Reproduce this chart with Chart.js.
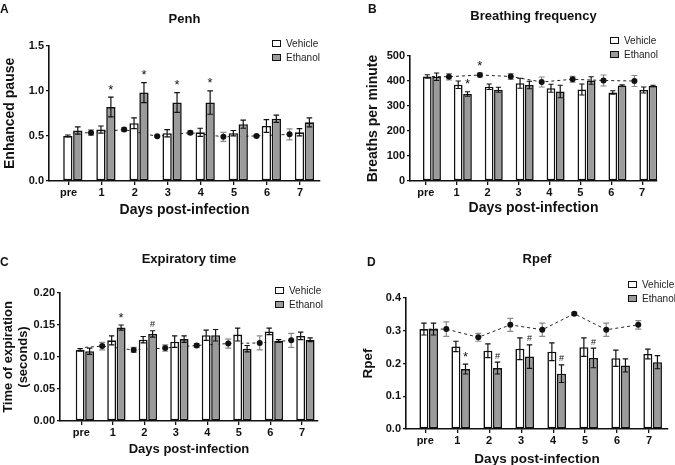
<!DOCTYPE html>
<html>
<head>
<meta charset="utf-8">
<script src="https://cdn.jsdelivr.net/npm/chart.js@4.4.0/dist/chart.umd.min.js"></script>
<style>
  html, body { margin: 0; padding: 0; background: #fff; overflow: hidden; }
  body { width: 675px; height: 465px; position: relative; font-family: Arial, "Liberation Sans", sans-serif; color: #111; }
  canvas { position: absolute; }
  .letter { position: absolute; font-weight: bold; font-size: 12px; line-height: 12px; }
  .legend { position: absolute; font-size: 10px; color: #222; }
  .legend div { height: 14px; line-height: 14px; white-space: nowrap; }
  .legend span { display: inline-block; box-sizing: border-box; width: 9px; height: 7px; border: 1.5px solid #111; margin-right: 5px; }
</style>
</head>
<body>
<canvas id="chartA" width="335" height="230" style="left:0;top:0"></canvas>
<canvas id="chartB" width="340" height="230" style="left:335px;top:0"></canvas>
<canvas id="chartC" width="335" height="240" style="left:0;top:230px"></canvas>
<canvas id="chartD" width="340" height="240" style="left:335px;top:230px"></canvas>
<div class="letter" style="left:0;top:3px">A</div>
<div class="letter" style="left:368px;top:3px">B</div>
<div class="letter" style="left:0;top:256px">C</div>
<div class="letter" style="left:367px;top:256px">D</div>
<div class="legend" id="legA" style="left:272px;top:37px"></div>
<div class="legend" id="legB" style="left:610px;top:34px"></div>
<div class="legend" id="legC" style="left:275px;top:284px"></div>
<div class="legend" id="legD" style="left:628px;top:278px"></div>
<script>
const days = ['pre', '1', '2', '3', '4', '5', '6', '7'];
const seriesNames = ['Vehicle', 'Ethanol'];
const seriesFills = ['#ffffff', '#9b9b9b'];

// A - Penh
const penhVehicle = [0.50, 0.57, 0.64, 0.53, 0.54, 0.53, 0.61, 0.54];
const penhVehicleErr = [0.01, 0.04, 0.06, 0.04, 0.045, 0.03, 0.07, 0.04];
const penhEthanol = [0.56, 0.82, 0.98, 0.87, 0.87, 0.63, 0.69, 0.65];
const penhEthanolErr = [0.04, 0.11, 0.11, 0.11, 0.13, 0.045, 0.04, 0.05];
const penhLine = [0.53, 0.536, 0.57, 0.495, 0.536, 0.49, 0.50, 0.517];
const penhLineErr = [null, 0.03, 0.02, 0.01, 0.02, 0.05, 0.01, 0.06];
const penhEthanolMarks = ['', '*', '*', '*', '*', '', '', ''];
const penhLineMarks = ['', '', '', '', '', '', '', ''];

// B - breathing frequency
const bfVehicle = [418, 385, 377, 391, 371, 366, 354, 364];
const bfVehicleErr = [7, 15, 11, 20, 16, 22, 7, 12];
const bfEthanol = [417, 348, 365, 384, 358, 402, 382, 380];
const bfEthanolErr = [15, 9, 10, 15, 25, 15, 3, 3];
const bfLine = [418, 417, 424, 418, 396, 407, 402, 400];
const bfLineErr = [null, 13, 8, 12, 20, 12, 22, 22];
const bfEthanolMarks = ['', '*', '', '', '', '', '', ''];
const bfLineMarks = ['', '', '*', '', '', '', '', ''];

// C - expiratory time
const etVehicle = [0.111, 0.126, 0.127, 0.124, 0.134, 0.135, 0.140, 0.133];
const etVehicleErr = [0.002, 0.007, 0.005, 0.009, 0.008, 0.010, 0.005, 0.006];
const etEthanol = [0.109, 0.146, 0.136, 0.128, 0.134, 0.113, 0.125, 0.127];
const etEthanolErr = [0.005, 0.004, 0.005, 0.005, 0.009, 0.005, 0.002, 0.003];
const etLine = [0.115, 0.117, 0.111, 0.114, 0.118, 0.121, 0.122, 0.126];
const etLineErr = [null, 0.006, 0.004, 0.005, 0.003, 0.007, 0.011, 0.011];
const etEthanolMarks = ['', '*', '#', '', '', '', '', ''];
const etLineMarks = ['', '', '', '', '', '', '', ''];

// D - Rpef
const rpefVehicle = [0.305, 0.252, 0.239, 0.245, 0.236, 0.250, 0.216, 0.229];
const rpefVehicleErr = [0.018, 0.016, 0.021, 0.033, 0.027, 0.028, 0.025, 0.015];
const rpefEthanol = [0.305, 0.183, 0.186, 0.221, 0.169, 0.217, 0.194, 0.204];
const rpefEthanolErr = [0.018, 0.015, 0.018, 0.036, 0.027, 0.030, 0.020, 0.020];
const rpefLine = [0.305, 0.305, 0.280, 0.318, 0.303, 0.352, 0.303, 0.318];
const rpefLineErr = [null, 0.022, 0.012, 0.02, 0.02, 0.004, 0.02, 0.013];
const rpefEthanolMarks = ['', '*', '#', '#', '#', '#', '', ''];
const rpefLineMarks = ['', '', '', '', '', '', '', ''];

const FONT = 'Arial, "Liberation Sans", sans-serif';
const INK = '#111';

// error bars: line ones go under the dots, bar ones on top of the bars
function drawErrors(chart, index) {
  const ds = chart.data.datasets[index];
  if (!ds.errors) return;
  const meta = chart.getDatasetMeta(index);
  const yScale = chart.scales.y;
  const ctx = chart.ctx;
  ctx.save();
  ctx.strokeStyle = ds.errorColor || INK;
  ctx.lineWidth = 1.2;
  meta.data.forEach((el, i) => {
    const e = ds.errors[i];
    if (e == null) return;
    const v = ds.data[i].y;
    const top = yScale.getPixelForValue(v + e);
    const bot = yScale.getPixelForValue(v - e);
    const half = ds.type === 'line' ? 3 : el.width * 0.3;
    ctx.beginPath();
    ctx.moveTo(el.x, top); ctx.lineTo(el.x, bot);
    ctx.moveTo(el.x - half, top); ctx.lineTo(el.x + half, top);
    ctx.moveTo(el.x - half, bot); ctx.lineTo(el.x + half, bot);
    ctx.stroke();
  });
  ctx.restore();
}

const errorBars = {
  id: 'errorBars',
  beforeDatasetDraw(chart, args) {
    if (chart.data.datasets[args.index].type === 'line') drawErrors(chart, args.index);
  },
  afterDatasetDraw(chart, args) {
    if (chart.data.datasets[args.index].type !== 'line') drawErrors(chart, args.index);
  },
  afterDatasetsDraw(chart) {
    const ctx = chart.ctx;
    const yScale = chart.scales.y;
    ctx.save();
    ctx.fillStyle = INK;
    ctx.textAlign = 'center';
    ctx.textBaseline = 'alphabetic';
    chart.data.datasets.forEach((ds, di) => {
      if (!ds.marks) return;
      const meta = chart.getDatasetMeta(di);
      ds.marks.forEach((m, i) => {
        if (!m) return;
        const el = meta.data[i];
        const top = yScale.getPixelForValue(ds.data[i].y + (ds.errors[i] || 0));
        ctx.font = (m === '#' ? '9px ' : '13px ') + FONT;
        ctx.fillText(m, el.x, top - 3.5);
      });
    });
    ctx.restore();
  }
};

function makeLegend(id) {
  const el = document.getElementById(id);
  el.innerHTML = seriesNames.map((n, i) =>
    '<div><span style="background:' + seriesFills[i] + '"></span>' + n + '</div>').join('');
}

function makeChart(id, p) {
  const canvas = document.getElementById(id);
  const W = canvas.width, H = canvas.height;
  const [left, top, right, bottom] = p.area;
  const tLh = 13 * 1.2;
  const aLh = p.axisSize * 1.2;
  return new Chart(canvas, {
    data: {
      datasets: [
        {
          type: 'bar', label: seriesNames[0],
          data: p.vehicle.map((v, i) => ({ x: i, y: v })),
          errors: p.vehicleErr,
          backgroundColor: seriesFills[0], borderColor: INK, borderWidth: 1.6, borderSkipped: false,
          categoryPercentage: 0.6, barPercentage: 0.94, order: 1
        },
        {
          type: 'bar', label: seriesNames[1],
          data: p.ethanol.map((v, i) => ({ x: i, y: v })),
          errors: p.ethanolErr, marks: p.ethanolMarks,
          backgroundColor: seriesFills[1], borderColor: INK, borderWidth: 1.6, borderSkipped: false,
          categoryPercentage: 0.6, barPercentage: 0.94, order: 1
        },
        {
          type: 'line',
          data: p.line.map((v, i) => ({ x: i === 0 ? 0 : i - 0.45, y: v })),
          errors: p.lineErr, marks: p.lineMarks, errorColor: '#8a8a8a',
          borderColor: '#222', borderWidth: 1, borderDash: [3, 3],
          pointRadius: p.line.map((v, i) => i === 0 ? 0 : 3),
          pointBackgroundColor: INK, pointBorderWidth: 0,
          order: 2
        }
      ]
    },
    options: {
      responsive: false,
      animation: false,
      layout: { padding: { left: 0, right: W - right, top: 0, bottom: 0 } },
      plugins: {
        legend: { display: false },
        tooltip: { enabled: false },
        title: {
          display: true, text: p.title, fullSize: false, color: INK,
          font: { family: FONT, size: 13, weight: 'bold' },
          padding: { top: p.titleY - tLh / 2, bottom: top - p.titleY - tLh / 2 }
        }
      },
      scales: {
        x: {
          type: 'linear', min: p.xMin, max: p.xMax, offset: false,
          afterBuildTicks: s => { s.ticks = days.map((d, i) => ({ value: i + p.tickShift })); },
          afterFit: s => { s.height = H - bottom; },
          ticks: {
            autoSkip: false, maxRotation: 0, padding: 1, color: INK,
            font: { family: FONT, size: 11, weight: 'bold' },
            callback: (v, i) => days[i]
          },
          grid: { offset: false, drawOnChartArea: false, tickLength: 4, color: INK, lineWidth: 1.3 },
          border: { color: INK, width: 1.6 },
          title: {
            display: true, text: 'Days post-infection', color: INK,
            font: { family: FONT, size: p.axisSize, weight: 'bold' },
            padding: { top: 0, bottom: H - p.xTitleY - aLh / 2 }
          }
        },
        y: {
          type: 'linear', min: 0, max: p.yMax,
          afterFit: s => { s.width = left; },
          ticks: {
            stepSize: p.yStep, padding: 2, color: INK,
            font: { family: FONT, size: 11, weight: 'bold' },
            callback: v => Number(v).toFixed(p.dec)
          },
          grid: { drawOnChartArea: false, tickLength: 3, color: INK, lineWidth: 1.3 },
          border: { color: INK, width: 1.6 },
          title: {
            display: true, text: p.yTitle, color: INK,
            font: { family: FONT, size: p.axisSize, weight: 'bold' },
            padding: { top: p.yTitleX - aLh / 2, bottom: 0 }
          }
        }
      }
    },
    plugins: [errorBars]
  });
}

makeChart('chartA', {
  title: 'Penh', yTitle: 'Enhanced pause', axisSize: 14,
  area: [49, 45.7, 320, 181], xMin: -0.72, xMax: 7.47, tickShift: -0.13,
  titleY: 19, yTitleX: 10, xTitleY: 210, yMax: 1.5, yStep: 0.5, dec: 1,
  vehicle: penhVehicle, vehicleErr: penhVehicleErr,
  ethanol: penhEthanol, ethanolErr: penhEthanolErr, ethanolMarks: penhEthanolMarks,
  line: penhLine, lineErr: penhLineErr, lineMarks: penhLineMarks
});

makeChart('chartB', {
  title: 'Breathing frequency', yTitle: 'Breaths per minute', axisSize: 14,
  area: [75, 56, 322, 181], xMin: -0.71, xMax: 7.28, tickShift: -0.2,
  titleY: 16, yTitleX: 38, xTitleY: 208, yMax: 500, yStep: 100, dec: 0,
  vehicle: bfVehicle, vehicleErr: bfVehicleErr,
  ethanol: bfEthanol, ethanolErr: bfEthanolErr, ethanolMarks: bfEthanolMarks,
  line: bfLine, lineErr: bfLineErr, lineMarks: bfLineMarks
});

makeChart('chartC', {
  title: 'Expiratory time', yTitle: ['Time of expiration', '(seconds)'], axisSize: 13,
  area: [60, 63, 318, 191], xMin: -0.79, xMax: 7.4, tickShift: -0.11,
  titleY: 29, yTitleX: 8, xTitleY: 219, yMax: 0.2, yStep: 0.05, dec: 2,
  vehicle: etVehicle, vehicleErr: etVehicleErr,
  ethanol: etEthanol, ethanolErr: etEthanolErr, ethanolMarks: etEthanolMarks,
  line: etLine, lineErr: etLineErr, lineMarks: etLineMarks
});

makeChart('chartD', {
  title: 'Rpef', yTitle: 'Rpef', axisSize: 13.5,
  area: [71, 68, 333, 199], xMin: -0.71, xMax: 7.48, tickShift: -0.11,
  titleY: 29, yTitleX: 33, xTitleY: 229, yMax: 0.4, yStep: 0.1, dec: 1,
  vehicle: rpefVehicle, vehicleErr: rpefVehicleErr,
  ethanol: rpefEthanol, ethanolErr: rpefEthanolErr, ethanolMarks: rpefEthanolMarks,
  line: rpefLine, lineErr: rpefLineErr, lineMarks: rpefLineMarks
});

['legA', 'legB', 'legC', 'legD'].forEach(makeLegend);
</script>
</body>
</html>
